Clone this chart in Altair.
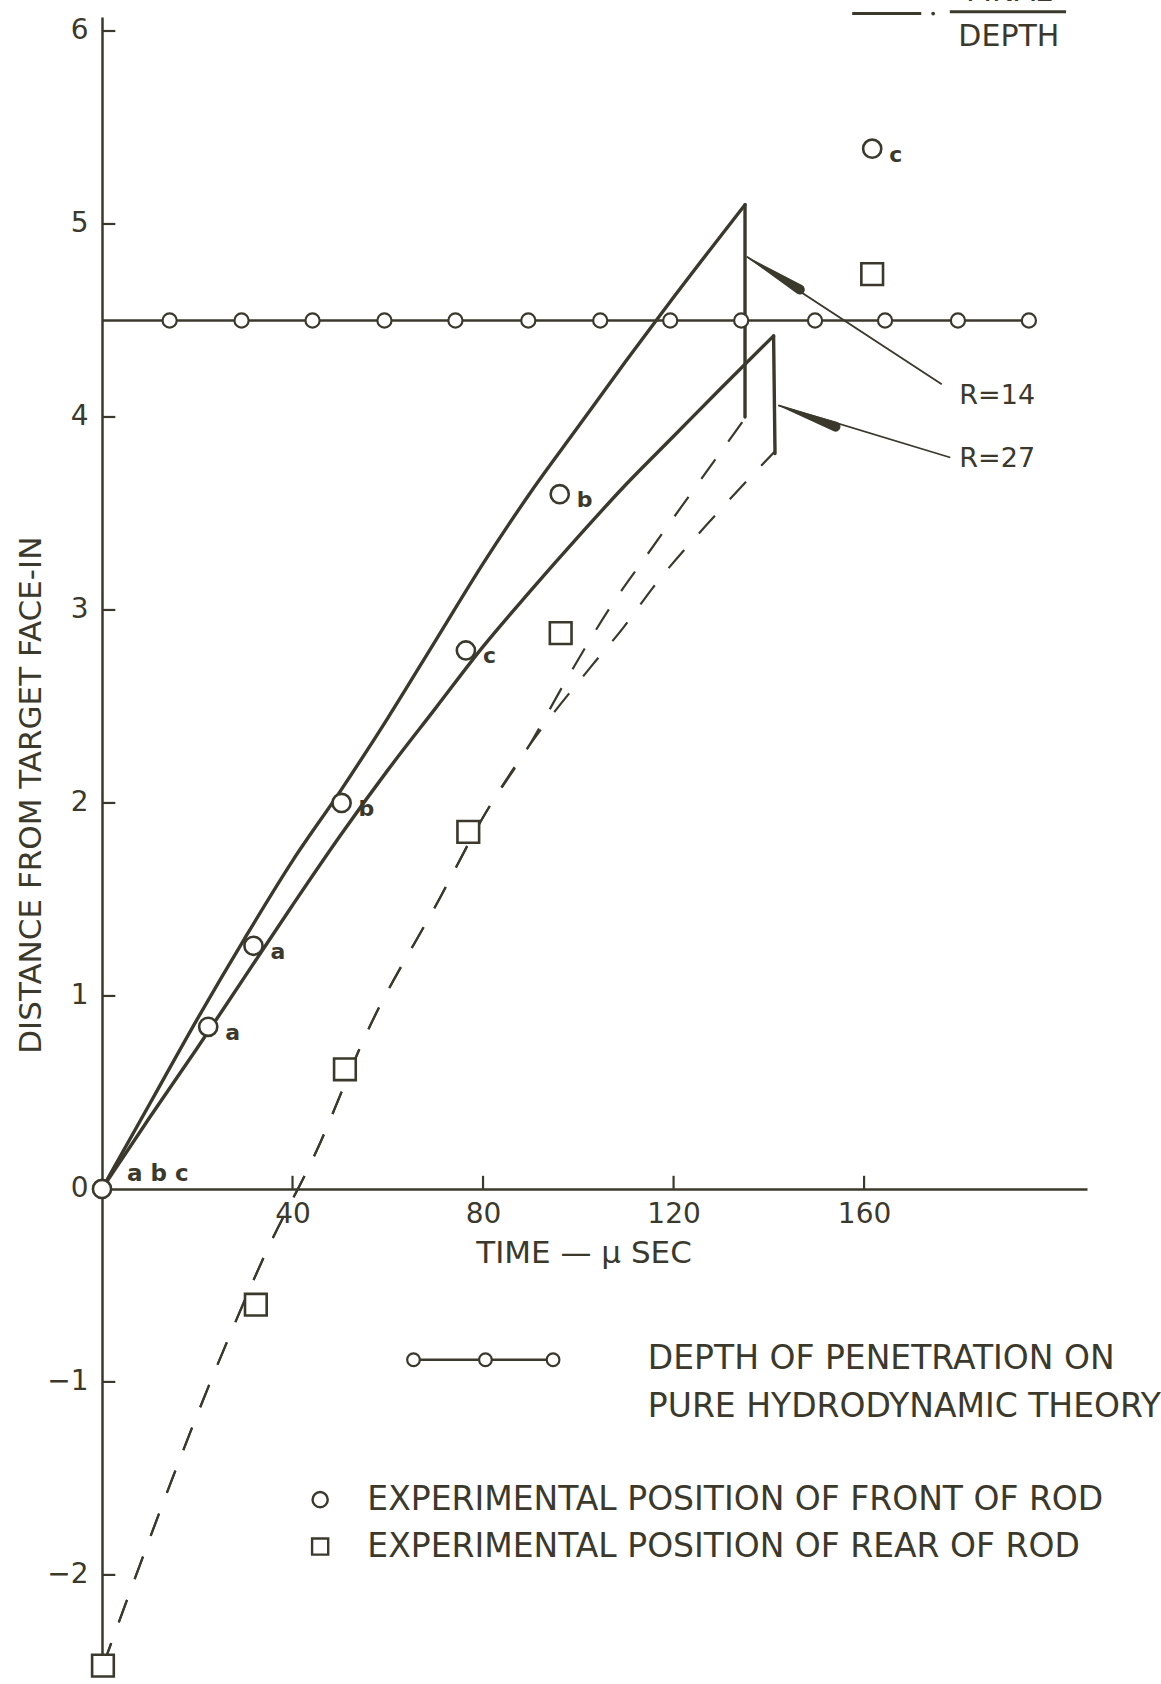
import altair as alt
import pandas as pd

# ---------------- data ----------------
theory_t = [14.2, 29.3, 44.2, 59.3, 74.2, 89.5, 104.6, 119.3, 134.2, 149.7, 164.4, 179.7, 194.6]
theory_depth = 4.5

front_t = [0, 22.3, 31.8, 50.3, 76.4, 96.1, 161.7]
front_d = [0, 0.84, 1.26, 2.00, 2.79, 3.60, 5.39]
front_lbl = ["a b c", "a", "a", "b", "c", "b", "c"]

rear_t = [0.2, 32.3, 51.0, 76.9, 96.3, 161.7]
rear_d = [-2.47, -0.60, 0.62, 1.85, 2.88, 4.74]

# R = 14 (upper solid curve) up to its peak, then the drop to the final depth
r14_t = [0, 10, 20, 30, 40, 50, 60, 70, 80, 90, 100, 110, 120, 135.0]
r14_d = [0, 0.44, 0.88, 1.30, 1.70, 2.06, 2.44, 2.84, 3.24, 3.61, 3.95, 4.29, 4.62, 5.10]
r14_drop_t = [135.0, 135.0]
r14_drop_d = [5.10, 4.00]

# R = 27 (lower solid curve)
r27_t = [0, 10, 20, 30, 40, 50, 60, 70, 80, 90, 100, 110, 120, 130, 141.0]
r27_d = [0, 0.37, 0.73, 1.10, 1.47, 1.83, 2.17, 2.49, 2.81, 3.10, 3.38, 3.65, 3.90, 4.15, 4.42]
r27_drop_t = [141.0, 141.3]
r27_drop_d = [4.42, 3.81]

# rear of rod (dashed)
rear14_t = [0.2, 24.1, 34.6, 45.1, 55.6, 71.0, 80.1, 89.5, 98.0, 107.4, 113.7, 135.2]
rear14_d = [-2.47, -0.92, -0.32, 0.20, 0.81, 1.51, 1.93, 2.29, 2.66, 3.04, 3.26, 4.00]
rear27_t = [0.2, 24.1, 34.6, 45.1, 55.6, 71.0, 80.1, 89.5, 102.8, 109.5, 115.8, 129.1, 141.2]
rear27_d = [-2.47, -0.92, -0.32, 0.20, 0.81, 1.51, 1.93, 2.29, 2.71, 2.91, 3.12, 3.50, 3.82]

# annotation arrows: tip, wide end of arrowhead, end of leader near label
arrow_names = ["R=14", "R=27"]
arrow_tip_t = [135.4, 142.0]
arrow_tip_d = [4.83, 4.06]
arrow_wide_t = [146.5, 154.0]
arrow_wide_d = [4.66, 3.95]
arrow_end_t = [176.3, 178.1]
arrow_end_d = [4.17, 3.79]
arrow_lbl_t = [180.0, 180.0]
arrow_lbl_d = [4.11, 3.78]

x_ticks = [40, 80, 120, 160]
y_ticks = [-2, -1, 0, 1, 2, 3, 4, 5, 6]

# legend (drawn inside the plot region, in data units)
leg_theory_t = [65.4, 80.5, 94.7]
leg_theory_d = -0.885
leg_text_t = [114.6, 114.6, 55.7, 55.7]
leg_text_d = [-0.879, -1.13, -1.61, -1.853]
leg_text = ["DEPTH OF PENETRATION ON", "PURE HYDRODYNAMIC THEORY",
            "EXPERIMENTAL POSITION OF FRONT OF ROD", "EXPERIMENTAL POSITION OF REAR OF ROD"]
leg_sym_t = 45.8
leg_circle_d = -1.61
leg_square_d = -1.853

# top-right key "—— · FINAL / DEPTH"
key_seg_t = [[157.5, 172.0], [178.0, 202.4]]
key_seg_d = [6.09, 6.10]
key_dot = (174.5, 6.09)
key_text_t = [190.4, 190.4]
key_text_d = [6.20, 5.97]
key_text = ["FINAL", "DEPTH"]

# ---------------- layout ----------------
X_DOM = [0, 206.8]
Y_DOM = [-2.415, 6.0725]
W, H = 985, 1638
INK = "#3b392c"
FONT = "DejaVu Sans"

y0_px = (Y_DOM[1] - 0) / (Y_DOM[1] - Y_DOM[0]) * H
x_axis_offset = -(H - y0_px)

xs = alt.Scale(domain=X_DOM, nice=False, zero=False)
ys = alt.Scale(domain=Y_DOM, nice=False, zero=False)

X_AXIS = alt.Axis(
    values=x_ticks, ticks=False, grid=False, domainColor=INK, domainWidth=2.5,
    labelFont=FONT, labelFontSize=28, labelColor=INK, labelPadding=12,
    offset=x_axis_offset, title=None, labelFlush=False, labelOverlap=False)
Y_AXIS = alt.Axis(
    values=y_ticks, ticks=False, grid=False, domainColor=INK, domainWidth=2.5,
    labelFont=FONT, labelFontSize=28, labelColor=INK, labelPadding=14,
    title=None, format="d", labelFlush=False, labelOverlap=False)


def X(f="t"):
    return alt.X(f"{f}:Q", scale=xs, axis=X_AXIS)


def Y(f="d"):
    return alt.Y(f"{f}:Q", scale=ys, axis=Y_AXIS)


# theory line
theory_line_df = pd.DataFrame({"t": [0] + theory_t, "d": [theory_depth] * (len(theory_t) + 1)})
theory_line = alt.Chart(theory_line_df).mark_line(color=INK, strokeWidth=2.4).encode(x=X(), y=Y())
theory_pts = alt.Chart(pd.DataFrame({"t": theory_t, "d": [theory_depth] * len(theory_t)})).mark_point(
    shape="circle", filled=True, fill="white", stroke=INK, strokeWidth=2.2, size=200, opacity=1
).encode(x=X(), y=Y())

# inward ticks
ytick_df = pd.DataFrame({"d": [v for v in y_ticks if v != 0], "t0": 0, "t1": 2.8})
ytick = alt.Chart(ytick_df).mark_rule(color=INK, strokeWidth=2.2).encode(
    x=X("t0"), x2="t1:Q", y=Y())
xtick_df = pd.DataFrame({"t": x_ticks, "d0": 0, "d1": 0.068})
xtick = alt.Chart(xtick_df).mark_rule(color=INK, strokeWidth=2.2).encode(
    x=X(), y=Y("d0"), y2="d1:Q")

# solid curves
solid_rows = []
for name, ts, ds in [("R14", r14_t, r14_d), ("R27", r27_t, r27_d)]:
    for i, (t, d) in enumerate(zip(ts, ds)):
        solid_rows.append({"c": name, "t": t, "d": d, "o": i})
solid = alt.Chart(pd.DataFrame(solid_rows)).mark_line(
    color=INK, strokeWidth=3.4, interpolate="monotone", strokeCap="round").encode(
    x=X(), y=Y(), detail="c:N", order="o:Q")

drop_rows = []
for name, ts, ds in [("R14", r14_drop_t, r14_drop_d), ("R27", r27_drop_t, r27_drop_d)]:
    for i, (t, d) in enumerate(zip(ts, ds)):
        drop_rows.append({"c": name, "t": t, "d": d, "o": i})
drops = alt.Chart(pd.DataFrame(drop_rows)).mark_line(
    color=INK, strokeWidth=3.4, strokeCap="round").encode(
    x=X(), y=Y(), detail="c:N", order="o:Q")

dash_rows = []
for name, ts, ds in [("R14", rear14_t, rear14_d), ("R27", rear27_t, rear27_d)]:
    for i, (t, d) in enumerate(zip(ts, ds)):
        dash_rows.append({"c": name, "t": t, "d": d, "o": i})
dashed = alt.Chart(pd.DataFrame(dash_rows)).mark_line(
    color=INK, strokeWidth=2.2, strokeDash=[24, 22], interpolate="monotone").encode(
    x=X(), y=Y(), detail="c:N", order="o:Q")

# experimental points
front_df = pd.DataFrame({"t": front_t, "d": front_d, "lbl": front_lbl})
front = alt.Chart(front_df).mark_point(
    shape="circle", filled=True, fill="white", stroke=INK, strokeWidth=2.6, size=330, opacity=1
).encode(x=X(), y=Y())
front_lab = alt.Chart(front_df[front_df.lbl != "a b c"]).mark_text(
    align="left", baseline="middle", dx=17, dy=6, font=FONT, fontWeight="bold", fontSize=22, color=INK
).encode(x=X(), y=Y(), text="lbl:N")
origin_lab = alt.Chart(front_df[front_df.lbl == "a b c"]).mark_text(
    align="left", baseline="middle", dx=25, dy=-15, font=FONT, fontWeight="bold", fontSize=23, color=INK
).encode(x=X(), y=Y(), text="lbl:N")

rear = alt.Chart(pd.DataFrame({"t": rear_t, "d": rear_d})).mark_point(
    shape="square", filled=True, fill="white", stroke=INK, strokeWidth=2.6, size=470, opacity=1
).encode(x=X(), y=Y())

# annotation arrows
lead_df = pd.DataFrame({"t": arrow_tip_t, "d": arrow_tip_d, "t2": arrow_end_t, "d2": arrow_end_d})
leader = alt.Chart(lead_df).mark_rule(color=INK, strokeWidth=1.8).encode(
    x=X(), y=Y(), x2="t2:Q", y2="d2:Q")
head_rows = []
for i, n in enumerate(arrow_names):
    head_rows.append({"a": n, "t": arrow_tip_t[i], "d": arrow_tip_d[i], "w": 0.8, "o": 0})
    head_rows.append({"a": n, "t": arrow_wide_t[i], "d": arrow_wide_d[i], "w": 10.0, "o": 1})
heads = alt.Chart(pd.DataFrame(head_rows)).mark_trail(color=INK).encode(
    x=X(), y=Y(), detail="a:N", order="o:Q", size=alt.Size("w:Q", scale=None, legend=None))
arrow_lab = alt.Chart(pd.DataFrame({"t": arrow_lbl_t, "d": arrow_lbl_d, "s": arrow_names})).mark_text(
    align="left", baseline="middle", font=FONT, fontSize=27, color=INK
).encode(x=X(), y=Y(), text="s:N")

# axis titles
xtitle = alt.Chart(pd.DataFrame({"t": [101.2], "d": [-0.337], "s": ["TIME — μ SEC"]})).mark_text(
    align="center", baseline="middle", font=FONT, fontSize=31, color=INK
).encode(x=X(), y=Y(), text="s:N")
ytitle = alt.Chart(pd.DataFrame({"t": [-14.7], "d": [2.04], "s": ["DISTANCE FROM TARGET FACE-IN"]})).mark_text(
    align="center", baseline="middle", angle=270, font=FONT, fontSize=31, color=INK
).encode(x=X(), y=Y(), text="s:N")

# legend
leg_line = alt.Chart(pd.DataFrame({"t": leg_theory_t, "d": [leg_theory_d] * 3})).mark_line(
    color=INK, strokeWidth=2.4).encode(x=X(), y=Y())
leg_pts = alt.Chart(pd.DataFrame({"t": leg_theory_t, "d": [leg_theory_d] * 3})).mark_point(
    shape="circle", filled=True, fill="white", stroke=INK, strokeWidth=2.2, size=160, opacity=1
).encode(x=X(), y=Y())
leg_txt = alt.Chart(pd.DataFrame({"t": leg_text_t, "d": leg_text_d, "s": leg_text})).mark_text(
    align="left", baseline="middle", font=FONT, fontSize=33, color=INK
).encode(x=X(), y=Y(), text="s:N")
leg_circ = alt.Chart(pd.DataFrame({"t": [leg_sym_t], "d": [leg_circle_d]})).mark_point(
    shape="circle", filled=True, fill="white", stroke=INK, strokeWidth=2.4, size=230, opacity=1
).encode(x=X(), y=Y())
leg_sq = alt.Chart(pd.DataFrame({"t": [leg_sym_t], "d": [leg_square_d]})).mark_point(
    shape="square", filled=True, fill="white", stroke=INK, strokeWidth=2.4, size=260, opacity=1
).encode(x=X(), y=Y())

# top-right key
key_df = pd.DataFrame({"t": [s[0] for s in key_seg_t], "t2": [s[1] for s in key_seg_t], "d": key_seg_d})
key_lines = alt.Chart(key_df).mark_rule(color=INK, strokeWidth=3).encode(
    x=X(), x2="t2:Q", y=Y())
key_dotc = alt.Chart(pd.DataFrame({"t": [key_dot[0]], "d": [key_dot[1]]})).mark_point(
    shape="circle", filled=True, color=INK, size=14, opacity=1).encode(x=X(), y=Y())
key_txt = alt.Chart(pd.DataFrame({"t": key_text_t, "d": key_text_d, "s": key_text})).mark_text(
    align="center", baseline="middle", font=FONT, fontSize=30, color=INK
).encode(x=X(), y=Y(), text="s:N")

chart = alt.layer(
    theory_line, ytick, xtick, dashed, solid, drops, theory_pts, leader, heads, arrow_lab,
    front, front_lab, origin_lab, rear, xtitle, ytitle,
    leg_line, leg_pts, leg_txt, leg_circ, leg_sq, key_lines, key_dotc, key_txt
).properties(
    width=W, height=H,
    autosize=alt.AutoSizeParams(type="none"),
    padding={"left": 102, "top": 17, "right": 74, "bottom": 29},
    background="white",
).configure_view(stroke=None)

chart.save("out.html", embed_options={"renderer": "svg", "actions": False})
